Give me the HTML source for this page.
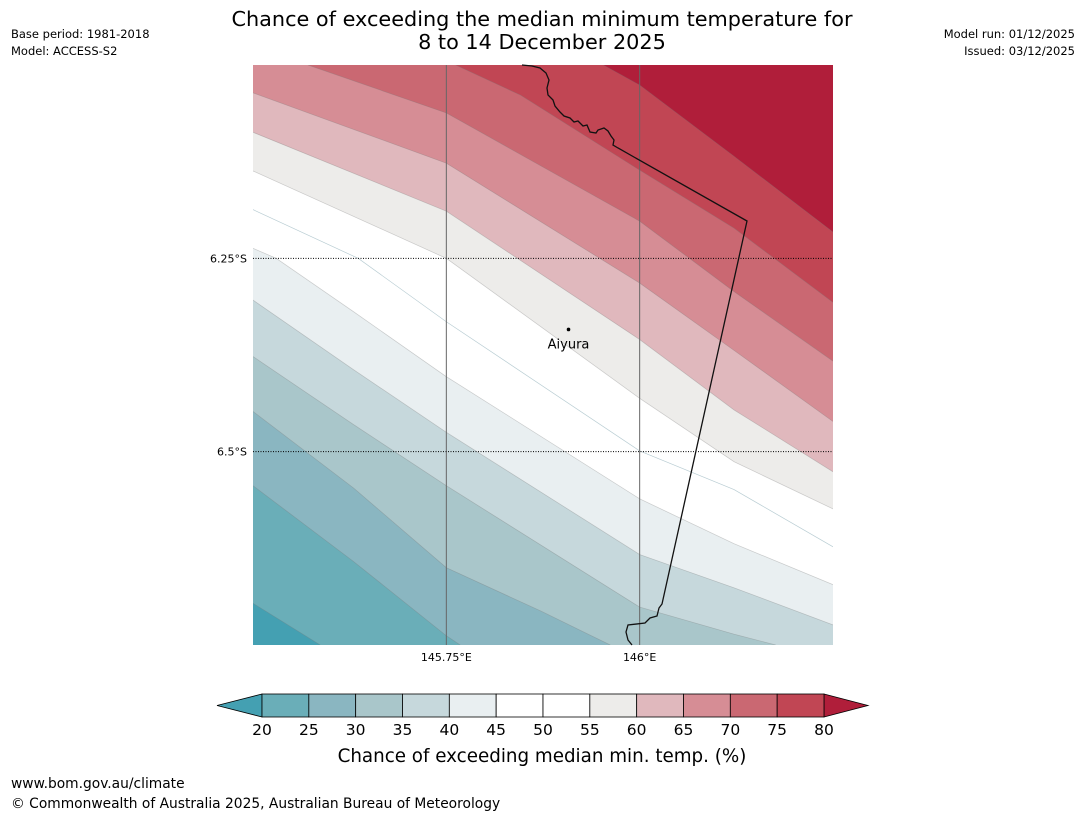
<!DOCTYPE html>
<html><head><meta charset="utf-8"><style>
html,body{margin:0;padding:0;background:#fff;}
body{width:1085px;height:816px;overflow:hidden;font-family:"Liberation Sans","DejaVu Sans",sans-serif;}
svg text{font-family:"DejaVu Sans","Liberation Sans",sans-serif;}
</style></head><body>
<svg id="chart" width="1085" height="816" viewBox="0 0 1085 816" xmlns="http://www.w3.org/2000/svg">
<text x="542" y="26" font-size="20.8" text-anchor="middle" fill="#000">Chance of exceeding the median minimum temperature for</text>
<text x="542" y="49" font-size="20.8" text-anchor="middle" fill="#000">8 to 14 December 2025</text>
<text x="11" y="38" font-size="11.5">Base period: 1981-2018</text>
<text x="11" y="55" font-size="11.5">Model: ACCESS-S2</text>
<text x="1075" y="38" font-size="11.5" text-anchor="end">Model run: 01/12/2025</text>
<text x="1075" y="55" font-size="11.5" text-anchor="end">Issued: 03/12/2025</text>
<defs><clipPath id="mapclip"><rect x="253" y="65" width="580" height="580"/></clipPath></defs>
<g id="map" clip-path="url(#mapclip)"></g>
<g id="overlay"></g>
<g id="cbar"></g>
<text x="542" y="762" font-size="18.3" text-anchor="middle">Chance of exceeding median min. temp. (%)</text>
<text x="11" y="788" font-size="13.8">www.bom.gov.au/climate</text>
<text x="11" y="808" font-size="13.8">© Commonwealth of Australia 2025, Australian Bureau of Meteorology</text>
</svg>
<script>
// contour levels and colours
const levels = [20,25,30,35,40,45,50,55,60,65,70,75,80];
const bandColors = ["#6aaeb8","#8ab6c1","#a9c6ca","#c6d8dc","#e9eff1","#ffffff","#ffffff","#edecea","#e0b8bd","#d68d95","#ca6872","#c14654","#b01e3a"];
const belowColor = "#44a0b2";
// contour line coordinates (longitude E, latitude S) per level
const c20Lon=[145.5,145.587], c20Lat=[6.696,6.75];
const c25Lon=[145.5,145.63,145.75,145.768], c25Lat=[6.544,6.642,6.738,6.75];
const c30Lon=[145.5,145.63,145.75,145.872,145.962], c30Lat=[6.448,6.547,6.65,6.706,6.75];
const c35Lon=[145.5,145.63,145.75,146.0,146.122,146.176], c35Lat=[6.377,6.465,6.544,6.701,6.736,6.75];
const c40Lon=[145.5,145.63,145.75,146.0,146.122,146.25], c40Lat=[6.304,6.394,6.475,6.633,6.676,6.724];
const c45Lon=[145.5,145.53,145.63,145.75,146.0,146.122,146.25], c45Lat=[6.237,6.25,6.319,6.403,6.561,6.619,6.672];
const c50Lon=[145.5,145.636,145.75,146.0,146.122,146.25], c50Lat=[6.187,6.25,6.332,6.499,6.549,6.623];
const c55Lon=[145.5,145.75,146.0,146.122,146.25], c55Lat=[6.137,6.25,6.431,6.513,6.574];
const c60Lon=[145.5,145.75,146.0,146.122,146.25], c60Lat=[6.087,6.189,6.355,6.446,6.526];
const c65Lon=[145.5,145.75,146.0,146.122,146.25], c65Lat=[6.036,6.127,6.282,6.369,6.461];
const c70Lon=[145.571,145.75,146.0,146.122,146.25], c70Lat=[6.0,6.062,6.202,6.293,6.383];
const c75Lon=[145.762,145.846,146.0,146.122,146.25], c75Lat=[6.0,6.039,6.136,6.211,6.307];
const c80Lon=[145.953,146.0,146.122,146.25], c80Lat=[6.0,6.026,6.118,6.216];
const contourLons=[c20Lon,c25Lon,c30Lon,c35Lon,c40Lon,c45Lon,c50Lon,c55Lon,c60Lon,c65Lon,c70Lon,c75Lon,c80Lon];
const contourLats=[c20Lat,c25Lat,c30Lat,c35Lat,c40Lat,c45Lat,c50Lat,c55Lat,c60Lat,c65Lat,c70Lat,c75Lat,c80Lat];
const lonTicks=[145.75,146.0], lonTickLabels=["145.75°E","146°E"];
const latTicks=[6.25,6.5], latTickLabels=["6.25°S","6.5°S"];
const townName="Aiyura", townLon=145.908, townLat=6.342;

const L=253,T=65,W=580,H=580, lon0=145.5, lon1=146.25, lat0=6.0, lat1=6.75;
const xS=v=>L+(v-lon0)/(lon1-lon0)*W;
const yS=v=>T+(v-lat0)/(lat1-lat0)*H;
const NS="http://www.w3.org/2000/svg";
const mk=(t,a,p)=>{const e=document.createElementNS(NS,t);for(const k in a)e.setAttribute(k,a[k]);p.appendChild(e);return e;};
const map=document.getElementById('map');
const bg=mk('rect',{x:L,y:T,width:W,height:H,fill:belowColor},map);


levels.forEach((lv,i)=>{
  const lo=contourLons[i], la=contourLats[i];
  const pts=lo.map((v,j)=>[xS(v),yS(la[j])]);
  const line=pts.slice();
  const end=pts[pts.length-1], st=pts[0];
  if(end[1]>=T+H-0.5) pts.push([L+W,T+H]);
  pts.push([L+W,T]);
  if(st[0]<=L+0.5) pts.push([L,T]);
  const p=mk('polygon',{points:pts.map(q=>q.join(',')).join(' '),fill:bandColors[i]},map);
  
  
  const pl=mk('polyline',{points:line.map(q=>q.join(',')).join(' '),fill:'none',stroke:(lv===50?'#b9cdd3':'rgba(120,120,120,0.35)'),'stroke-width':0.7},map);
  
  
});
const ov=document.getElementById('overlay');
lonTicks.forEach((v,i)=>{
  const g=mk('line',{x1:xS(v),x2:xS(v),y1:T,y2:T+H,stroke:'#666','stroke-width':1},ov);
  
  
  const t=mk('text',{x:xS(v),y:T+H+16,'font-size':11,'text-anchor':'middle'},ov);t.textContent=lonTickLabels[i];
  
  
});
latTicks.forEach((v,i)=>{
  const g=mk('line',{x1:L,x2:L+W,y1:yS(v),y2:yS(v),stroke:'#000','stroke-width':1,'stroke-dasharray':'1,1.5'},ov);
  
  
  const t=mk('text',{x:L-6,y:yS(v)+4,'font-size':11,'text-anchor':'end'},ov);t.textContent=latTickLabels[i];
  
  
});
const border=mk('path',{d:'M522,65 L532,66 L540,68 L546,73 L549,80 L547,88 L548,95 L553,100 L555,106 L560,112 L564,116 L570,118 L574,122 L578,121 L583,126 L587,125 L590,132 L596,133 L598,130 L604,128 L608,131 L611,136 L614,140 L613,145 L618,148 L747,221 L662,604 L659,608 L657,616 L650,618 L645,623 L628,625 L626,632 L628,640 L632,645',fill:'none',stroke:'#111','stroke-width':1.3},ov);


const dot=mk('circle',{cx:xS(townLon),cy:yS(townLat),r:1.8,fill:'#000'},ov);


const tl=mk('text',{x:xS(townLon),y:yS(townLat)+19,'font-size':13,'text-anchor':'middle'},ov);tl.textContent=townName;


// colorbar
const cb=document.getElementById('cbar');
const cbL=262,cbR=824,cbT=694,cbB=717,seg=(cbR-cbL)/(levels.length-1);
const lt=mk('polygon',{points:`${cbL},${cbT} ${cbL},${cbB} 217,${(cbT+cbB)/2}`,fill:belowColor,stroke:'#000','stroke-width':0.8},cb);


const rt=mk('polygon',{points:`${cbR},${cbT} ${cbR},${cbB} 868,${(cbT+cbB)/2}`,fill:bandColors[levels.length-1],stroke:'#000','stroke-width':0.8},cb);


for(let i=0;i<levels.length-1;i++){
  const r=mk('rect',{x:cbL+i*seg,y:cbT,width:seg,height:cbB-cbT,fill:bandColors[i],stroke:'#000','stroke-width':0.8},cb);
  
  
}
levels.forEach((lv,i)=>{
  const t=mk('text',{x:cbL+i*seg,y:735,'font-size':15.5,'text-anchor':'middle'},cb);t.textContent=lv;
  
  
});
</script>
</body></html>
